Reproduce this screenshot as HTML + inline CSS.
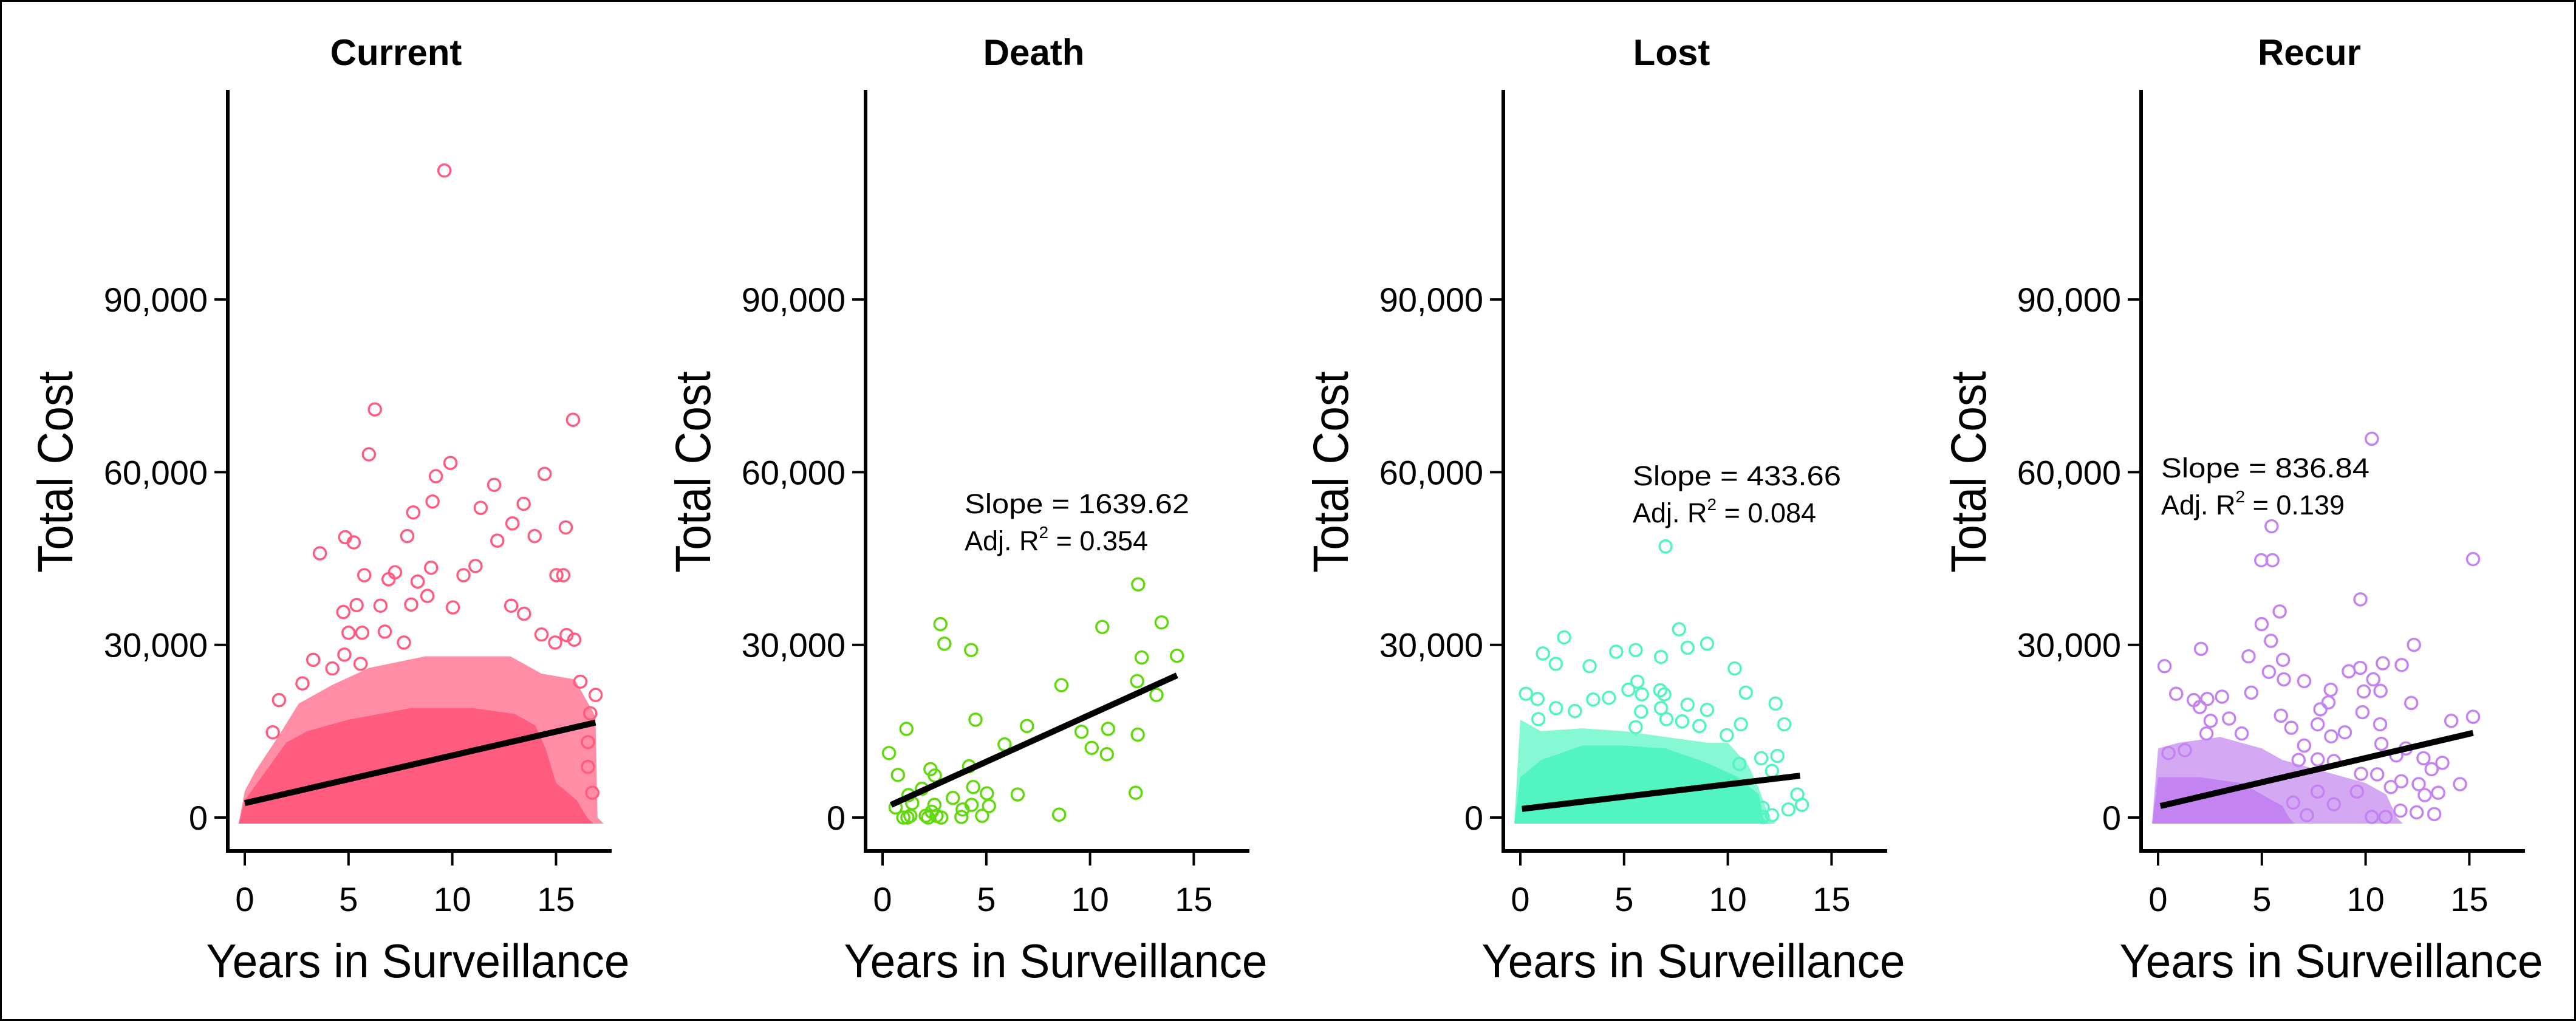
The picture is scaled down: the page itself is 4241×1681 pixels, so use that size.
<!DOCTYPE html>
<html><head><meta charset="utf-8"><style>
html,body{margin:0;padding:0;background:#fff;}
svg{display:block;}
text{font-family:"Liberation Sans",sans-serif;fill:#000;}
</style></head><body>
<svg id="chart" width="4241" height="1681" viewBox="0 0 4241 1681" xmlns="http://www.w3.org/2000/svg">
<rect x="1.5" y="1.5" width="4238" height="1678" fill="#fff" stroke="#000" stroke-width="3"/>
</svg>
<script>
// ---- data (years, cost in thousands) ----
const panelNames = ["Current","Death","Lost","Recur"];
const panelColors = ["#FF5C80","#62D80E","#52F5C2","#C383F0"];
const yTickValues = [0,30,60,90];
const yTickLabels = ["0","30,000","60,000","90,000"];
const xTickValues = [0,5,10,15];
const xTickLabels = ["0","5","10","15"];
const slopeLabels = [null,"Slope = 1639.62","Slope = 433.66","Slope = 836.84"];
const r2Labels = [null,"0.354","0.084","0.139"];

const currentYears = [9.62,6.27,15.82,5.98,9.91,9.21,14.45,12.02,13.44,9.05,11.37,8.12,12.9,15.47,4.84,5.25,7.83,12.17,13.97,3.62,5.76,6.93,7.24,8.98,10.54,11.12,15.02,15.35,8.33,6.54,5.39,4.75,8.02,8.8,10.03,12.84,13.46,5.66,5.0,6.75,14.3,15.51,15.88,14.96,7.67,2.78,1.65,3.3,4.22,4.8,5.58,16.91,16.65,16.17,16.54,16.75,1.35,16.54];
const currentCosts = [112.4,70.9,69.1,63.1,61.6,59.3,59.7,57.8,54.5,54.9,53.8,53.0,51.1,50.4,48.7,47.8,48.9,48.1,48.9,45.9,42.1,41.4,42.6,43.4,42.1,43.7,42.1,42.1,41.0,36.8,36.9,35.7,37.0,38.5,36.5,36.8,35.4,32.1,32.1,32.3,31.8,31.7,30.9,30.4,30.4,23.3,20.4,27.4,25.9,28.3,26.7,21.3,18.1,23.6,13.1,4.3,14.8,8.8];
const deathYears = [0.31,0.74,1.15,2.79,2.98,4.27,4.48,2.31,2.52,1.90,1.25,1.43,0.63,1.0,1.34,2.08,2.37,2.83,2.5,3.39,3.8,3.86,4.29,4.37,4.8,5.03,5.13,4.17,5.88,6.96,6.51,8.51,8.62,9.59,10.08,10.59,10.87,10.81,12.32,12.49,12.27,13.2,12.3,12.2,13.45,14.19,1.2,2.6,2.2];
const deathCosts = [11.2,7.4,15.4,33.6,30.2,29.1,17.0,8.4,7.3,5.0,3.9,2.5,1.75,0,0.3,0.3,1.0,0,2.2,3.4,0.1,1.4,2.2,5.3,0.3,4.2,2.0,8.9,12.7,15.9,4.0,0.5,23.0,14.9,12.1,33.1,15.4,11.0,40.5,27.8,23.7,21.3,14.4,4.3,33.9,28.1,0,0.3,0];
const lostYears = [7.0,7.65,2.11,1.09,1.71,3.34,4.62,5.56,6.78,8.06,9.0,10.33,10.87,12.3,12.72,10.63,9.0,8.63,7.8,8.06,6.78,7.04,6.94,6.74,5.64,5.86,5.21,5.82,4.27,3.51,0.27,0.83,1.72,2.63,0.87,5.56,9.95,11.61,12.39,12.13,13.35,13.57,12.92,11.68,12.13,11.68,10.56];
const lostCosts = [47.1,32.7,31.3,28.5,26.7,26.3,28.8,29.1,27.9,29.5,30.2,25.9,21.7,19.8,16.2,16.2,18.7,15.9,16.7,19.6,19.0,17.1,21.4,22.1,23.6,21.4,22.2,18.4,20.8,20.5,21.5,20.6,19.0,18.5,17.1,15.7,14.3,10.3,10.7,8.1,4.0,2.2,1.4,1.7,0.4,0.1,9.3];
const recurYears = [10.3,5.47,4.97,5.51,15.18,9.75,5.86,4.99,5.44,2.07,4.36,0.31,6.02,5.34,6.06,7.04,12.33,10.83,11.74,9.74,9.19,10.37,10.72,9.91,8.32,12.2,15.18,14.13,0.87,1.72,2.37,3.08,4.49,2.01,3.42,5.92,7.82,8.21,9.85,10.7,7.69,2.53,2.33,4.03,6.42,8.34,9.0,7.04,10.76,11.94,14.55,13.5,13.7,13.18,12.79,12.85,12.56,12.46,13.31,11.48,11.72,11.22,10.96,10.3,10.56,11.68,0.5,1.29,6.77,7.69,8.47,9.58,9.78,7.69,8.47,7.17,6.51];
const recurCosts = [65.8,50.6,44.7,44.7,44.9,37.9,35.8,33.6,30.7,29.3,28.0,26.3,27.4,25.3,24.0,23.7,30.0,26.8,26.5,26.0,25.4,24.0,22.0,21.9,22.2,19.9,17.5,16.8,21.5,20.4,20.6,21.0,21.7,19.2,17.2,17.7,18.8,20.0,18.3,16.2,16.2,16.8,14.6,14.6,15.6,14.1,14.8,12.5,12.8,12.0,5.8,4.3,9.5,8.4,10.3,3.9,5.8,0.9,0.6,10.8,6.3,5.3,0.1,0.1,7.5,1.2,11.2,11.7,10.0,10.1,9.8,4.5,7.6,4.5,2.3,0.4,2.6];

// dense-cloud envelopes (year, cost k)
const currentRingYears = [0,0.5,1.6,2.6,4.2,6,8.7,10.8,12.8,14.3,15.9,16.9,17];
const currentRingTop = [4.6,8,14,19.8,23,26,28,28,28,25,24,17.6,0];
const currentSolidYears = [0,1,2,3,5,8,11,13,14,14.5,15,16,16.5];
const currentSolidTop = [3,8,13,15,17,19,19,18,16,12,6,3,0];
const lostRingYears = [0,1,3,5,7,9,10,11,11.5,12];
const lostRingTop = [17,15,15.5,15,14,13,13,9,5,0];
const lostSolidYears = [0,1,3,5,7,9,10.5,11.5,11.7];
const lostSolidTop = [7,10,12.5,12.5,12,9.5,7,4,0];
const recurRingYears = [0,1,3,5,6,8,10,11,11.5];
const recurRingTop = [12,13,14,12,10,8,6,4,0];
const recurSolidYears = [0,2,4,5,6,6.3];
const recurSolidTop = [7,7,6,4,2,0];

// regression line endpoints
const fitX0 = [0,0.41,0.08,0.11];
const fitY0 = [2.5,2.2,1.5,2.0];
const fitX1 = [16.9,14.19,13.48,15.18];
const fitY1 = [16.5,24.7,7.26,14.7];

const allYears = [currentYears,deathYears,lostYears,recurYears];
const allCosts = [currentCosts,deathCosts,lostCosts,recurCosts];
const ringYears = [currentRingYears,null,lostRingYears,recurRingYears];
const ringTop = [currentRingTop,null,lostRingTop,recurRingTop];
const solidYears = [currentSolidYears,null,lostSolidYears,recurSolidYears];
const solidTop = [currentSolidTop,null,lostSolidTop,recurSolidTop];

// ---- layout ----
const NS="http://www.w3.org/2000/svg";
const svg=document.getElementById('chart');
const PANEL_DX=1050, X0=403, PX_PER_YEAR=34.16, Y0=1346, PX_PER_K=9.477;
const AXIS_X=375, AXIS_TOP=148, AXIS_Y=1401, AXIS_RIGHT=1007;
function mk(tag,attrs,parent){const e=document.createElementNS(NS,tag);for(const k in attrs)e.setAttribute(k,attrs[k]);(parent||svg).appendChild(e);return e;}

panelNames.forEach((name,i)=>{
  const ox=i*PANEL_DX;
  const xs=v=>X0+ox+v*PX_PER_YEAR;
  const ys=v=>Y0-v*PX_PER_K;
  const g=mk('g',{});
  
  
  const col=panelColors[i];

  const t=mk('text',{x:652+ox,y:107,'text-anchor':'middle','font-size':60,'font-weight':'bold'},g);
  t.textContent=name;
  
  

  if(ringYears[i]){
    let p=`${xs(0)-10},${ys(0)+10} `;
    ringYears[i].forEach((yv,j)=>{p+=`${xs(yv)},${ys(ringTop[i][j])} `;});
    p+=`${xs(ringYears[i][ringYears[i].length-1])+10},${ys(0)+10}`;
    const pr=mk('polygon',{points:p,fill:col,'fill-opacity':0.7},g);
    
    
    let q=`${xs(0)-10},${ys(0)+10} `;
    solidYears[i].forEach((yv,j)=>{q+=`${xs(yv)},${ys(solidTop[i][j])} `;});
    q+=`${xs(solidYears[i][solidYears[i].length-1])+10},${ys(0)+10}`;
    const ps=mk('polygon',{points:q,fill:col},g);
    
    
  }
  allYears[i].forEach((yv,j)=>{
    const c=mk('circle',{cx:xs(yv),cy:ys(allCosts[i][j]),r:10,fill:'none',stroke:col,'stroke-width':3.5},g);
    
    
  });
  const fl=mk('line',{x1:xs(fitX0[i]),y1:ys(fitY0[i]),x2:xs(fitX1[i]),y2:ys(fitY1[i]),stroke:'#000','stroke-width':10},g);
  
  

  const ya=mk('line',{x1:AXIS_X+ox,y1:AXIS_TOP,x2:AXIS_X+ox,y2:AXIS_Y+3,stroke:'#000','stroke-width':6},g);
  
  
  const xa=mk('line',{x1:AXIS_X+ox-3,y1:AXIS_Y,x2:AXIS_RIGHT+ox,y2:AXIS_Y,stroke:'#000','stroke-width':6},g);
  
  
  yTickValues.forEach((v,j)=>{
    const tk=mk('line',{x1:353+ox,y1:ys(v),x2:AXIS_X+ox,y2:ys(v),stroke:'#000','stroke-width':4},g);
    
    
    const tl=mk('text',{x:342+ox,y:ys(v)+20,'text-anchor':'end','font-size':56},g);
    tl.textContent=yTickLabels[j];
    
    
  });
  xTickValues.forEach((v,j)=>{
    const tk=mk('line',{x1:xs(v),y1:AXIS_Y,x2:xs(v),y2:1425,stroke:'#000','stroke-width':4},g);
    
    
    const tl=mk('text',{x:xs(v),y:1500,'text-anchor':'middle','font-size':56},g);
    tl.textContent=xTickLabels[j];
    
    
  });
  const yt=mk('text',{x:0,y:0,transform:`translate(${119+ox},777) rotate(-90)`,'text-anchor':'middle','font-size':82,textLength:332,lengthAdjust:'spacingAndGlyphs',style:'font-family:"Liberation Sans Narrow","Liberation Sans",sans-serif'},g);
  yt.textContent='Total Cost';
  
  
  const xt=mk('text',{x:688+ox,y:1609,'text-anchor':'middle','font-size':78,textLength:697,lengthAdjust:'spacingAndGlyphs'},g);
  xt.textContent='Years in Surveillance';
  
  

  if(slopeLabels[i]){
    const ax=[0,1588,2688,3558][i], ay=[0,845,799,786][i], aw=[0,370,343,343][i];
    const s=mk('text',{x:ax,y:ay,'font-size':45,textLength:aw,lengthAdjust:'spacingAndGlyphs'},g);
    s.textContent=slopeLabels[i];
    
    
    const r=mk('text',{x:ax,y:ay+61,'font-size':45},g);
    r.innerHTML='Adj. R<tspan dy="-20" font-size="28">2</tspan><tspan dy="20"> = '+r2Labels[i]+'</tspan>';
    
    
  }
});
</script>
</body></html>
